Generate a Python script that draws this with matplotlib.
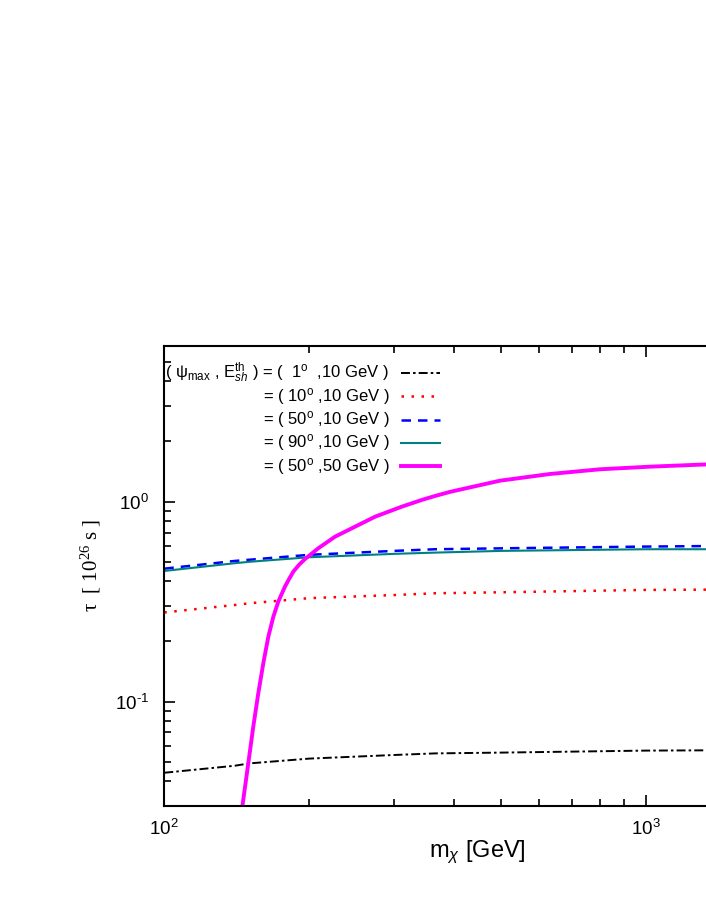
import matplotlib
matplotlib.use("Agg")
import matplotlib.pyplot as plt
from matplotlib.ticker import LogLocator, NullFormatter, FuncFormatter
import math

plt.rcParams['font.family'] = ['Liberation Sans', 'DejaVu Sans']
plt.rcParams['mathtext.fontset'] = 'custom'
plt.rcParams['mathtext.rm'] = 'Liberation Sans'
plt.rcParams['mathtext.it'] = 'Liberation Sans:italic'
plt.rcParams['mathtext.bf'] = 'Liberation Sans:bold'

# ---- data ----
x_common = [100, 140, 150, 200, 300, 365, 500, 1000, 1400]
tau_1deg_10 = [0.044, 0.0477, 0.049, 0.0518, 0.054, 0.055, 0.0555, 0.0568, 0.057]
tau_10deg_10 = [0.279, 0.304, 0.31, 0.329, 0.341, 0.348, 0.352, 0.3617, 0.363]
tau_50deg_10 = [0.462, 0.505, 0.512, 0.542, 0.567, 0.578, 0.584, 0.596, 0.60]
tau_90deg_10 = [0.45, 0.492, 0.50, 0.527, 0.548, 0.556, 0.567, 0.578, 0.578]

x_50deg_50 = [145.2, 149.4, 153.0, 156.7, 160.5, 164.4, 168.4, 172.4, 178.0, 181.3,
              185.3, 190.5, 196.0, 208.8, 226.1, 248.9, 273.8, 311.1, 342.2, 364.8,
              392, 497, 631, 802, 1017, 1290, 1400]
tau_50deg_50 = [0.0299, 0.0492, 0.075, 0.110, 0.1556, 0.2113, 0.266, 0.316, 0.376, 0.408,
                0.447, 0.484, 0.517, 0.585, 0.668, 0.750, 0.841, 0.944, 1.02, 1.068,
                1.12, 1.273, 1.375, 1.452, 1.496, 1.531, 1.54]

labels = [r"( ψ$_{\mathregular{max}}$ , E$^{\mathregular{th}}_{\mathit{sh}}$ ) = (  1$^{\mathregular{o}}$  ,10 GeV )",
          r"= ( 10$^{\mathregular{o}}$ ,10 GeV )",
          r"= ( 50$^{\mathregular{o}}$ ,10 GeV )",
          r"= ( 90$^{\mathregular{o}}$ ,10 GeV )",
          r"= ( 50$^{\mathregular{o}}$ ,50 GeV )"]

fig = plt.figure(figsize=(7.06, 9.13), dpi=100)
ax = fig.add_axes([164.3/706, 107/913, 627/706, 460.3/913])

series = [
    (x_common, tau_1deg_10, dict(color='black', lw=1.4, linestyle=(0, (4.6, 1.6, 1.3, 1.6)))),
    (x_common, tau_10deg_10, dict(color='#ff0000', lw=1.8, linestyle=(0, (1, 3)))),
    (x_common, tau_50deg_10, dict(color='#0000ff', lw=1.8, linestyle=(0, (3.8, 2.8)))),
    (x_common, tau_90deg_10, dict(color='#008080', lw=1.5, linestyle='-')),
    (x_50deg_50, tau_50deg_50, dict(color='#ff00ff', lw=2.8, linestyle='-')),
]
for xs, ys, st in series:
    ax.plot(xs, ys, solid_joinstyle='round', **st)

ax.set_xscale('log')
ax.set_yscale('log')
ax.set_xlim(100, 2000)
ax.set_ylim(0.03, 6.03)

def fmt(v, pos):
    e = int(round(math.log10(v)))
    if e < 0:
        return r"10$^{\mathregular{\text{-}%d}}$" % (-e)
    return r"10$^{\mathregular{%d}}$" % e

ax.xaxis.set_major_locator(LogLocator(base=10))
ax.xaxis.set_minor_locator(LogLocator(base=10, subs=range(2, 10)))
ax.yaxis.set_major_locator(LogLocator(base=10))
ax.yaxis.set_minor_locator(LogLocator(base=10, subs=range(2, 10)))
ax.xaxis.set_major_formatter(FuncFormatter(fmt))
ax.yaxis.set_major_formatter(FuncFormatter(fmt))
ax.xaxis.set_minor_formatter(NullFormatter())
ax.yaxis.set_minor_formatter(NullFormatter())

ax.tick_params(which='both', direction='in', top=True, right=True, width=1.2,
               labelsize=13.5, pad=9)
ax.tick_params(axis='y', which='major', pad=11)
ax.tick_params(which='major', length=8)
ax.tick_params(which='minor', length=5)
for s in ax.spines.values():
    s.set_linewidth(1.5)

ax.set_xlabel(r"m$_{\chi}$ [GeV]", fontsize=17, labelpad=0)
ax.set_ylabel(r"τ  [ 10$^{\mathregular{26}}$ s ]", fontsize=15,
              family=['Liberation Serif', 'DejaVu Serif'])
ax.yaxis.set_label_coords(-0.098, 0.5236)

# legend drawn manually (right-aligned texts, samples to the right)
y0 = 0.9405
dy = 0.0505
for i, (lab, (xs, ys, st)) in enumerate(zip(labels, series)):
    yy = y0 - i * dy
    ax.text(0.3592, yy, lab, transform=ax.transAxes, ha='right', va='center',
            fontsize=12)
    ax.plot([0.378, 0.4395], [yy, yy], transform=ax.transAxes, clip_on=False, **st)

fig.savefig('out.png', dpi=100)
